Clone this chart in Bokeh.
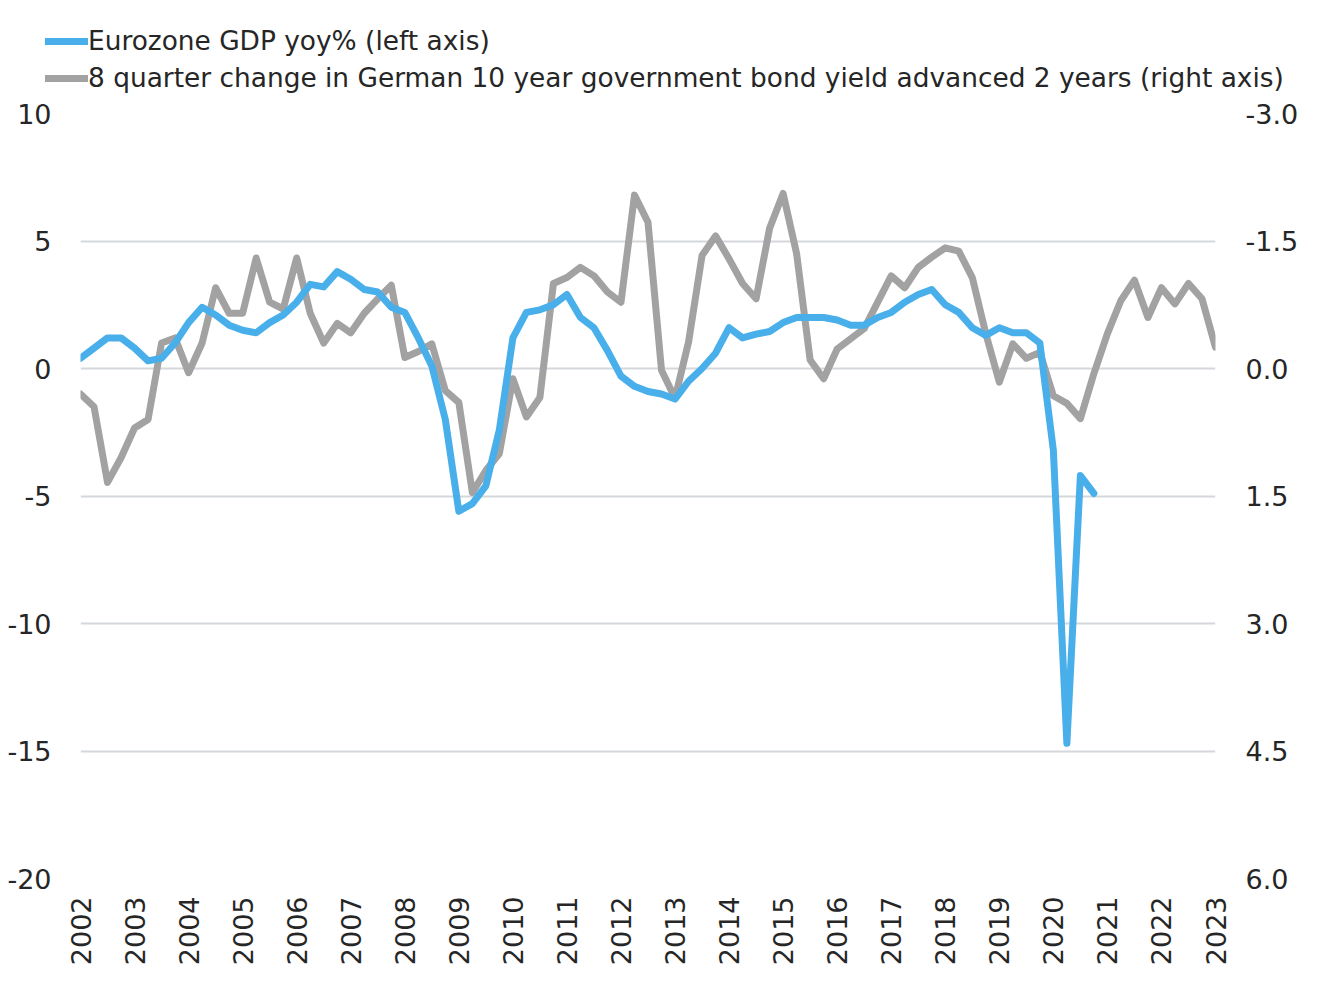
import math
from bokeh.plotting import figure
from bokeh.layouts import column
from bokeh.models import (Range1d, LinearAxis, FixedTicker, PrintfTickFormatter,
                          Legend, LegendItem, ColumnDataSource)
from bokeh.embed import file_html
from bokeh.resources import INLINE

# ---- data (quarterly, starting 2002 Q1) ----
start_year = 2002
gdp_yoy = [0.4, 0.8, 1.2, 1.2, 0.8, 0.3, 0.4, 1.0, 1.8, 2.4,
           2.1, 1.7, 1.5, 1.4, 1.8, 2.1, 2.6, 3.3, 3.2, 3.8,
           3.5, 3.1, 3.0, 2.4, 2.2, 1.2, 0.1, -2.0, -5.6, -5.3,
           -4.6, -2.4, 1.2, 2.2, 2.3, 2.5, 2.9, 2.0, 1.6, 0.7,
           -0.3, -0.7, -0.9, -1.0, -1.2, -0.5, 0.0, 0.6, 1.6, 1.2,
           1.35, 1.45, 1.8, 2.0, 2.0, 2.0, 1.9, 1.7, 1.7, 2.0,
           2.2, 2.6, 2.9, 3.1, 2.5, 2.2, 1.6, 1.3, 1.6, 1.4,
           1.4, 1.0, -3.2, -14.7, -4.2, -4.9]
bund_8q = [0.3, 0.45, 1.34, 1.05, 0.7, 0.6, -0.3, -0.36, 0.05, -0.3,
           -0.95, -0.65, -0.65, -1.3, -0.78, -0.7, -1.3, -0.65, -0.3, -0.53,
           -0.42, -0.65, -0.82, -0.98, -0.13, -0.2, -0.29, 0.26, 0.4, 1.46,
           1.2, 1.0, 0.12, 0.57, 0.34, -1.0, -1.07, -1.19, -1.09, -0.9,
           -0.78, -2.04, -1.72, 0.02, 0.35, -0.31, -1.33, -1.56, -1.29, -1.0,
           -0.82, -1.65, -2.06, -1.35, -0.1, 0.12, -0.23, -0.35, -0.47, -0.78,
           -1.09, -0.95, -1.19, -1.31, -1.42, -1.38, -1.07, -0.41, 0.16, -0.29,
           -0.12, -0.19, 0.32, 0.41, 0.59, 0.06, -0.41, -0.8, -1.04, -0.6,
           -0.95, -0.76, -1.0, -0.82, -0.25]
years = list(range(2002, 2024))
left_ticks = [-20, -15, -10, -5, 0, 5, 10]
right_ticks = [-3.0, -1.5, 0.0, 1.5, 3.0, 4.5, 6.0]
label_gdp = "Eurozone GDP yoy% (left axis)"
label_bund = "8 quarter change in German 10 year government bond yield advanced 2 years (right axis)"

x_gdp = [start_year + i / 4 for i in range(len(gdp_yoy))]
x_bund = [start_year + i / 4 for i in range(len(bund_8q))]

FONT = "DejaVu Sans"
FS = "27px"
LEG_FS = "26.4px"
TXT = "#262626"
BLUE = "#49AFEA"
GREY = "#A2A2A2"
LW = 7
LEG_H = 100
W = 1324

src_g = ColumnDataSource(dict(x=x_gdp, y=gdp_yoy))
src_b = ColumnDataSource(dict(x=x_bund, y=bund_8q))

# ---------- legend strip (series are out of its view; only the legend shows) ----------
lf = figure(width=W, height=LEG_H, output_backend="svg", toolbar_location=None,
            x_range=Range1d(0, 1), y_range=Range1d(0, 1),
            x_axis_type=None, y_axis_type=None,
            min_border_left=0, min_border_right=0, min_border_top=0,
            min_border_bottom=0)
lf.frame_align = False
lf.outline_line_color = None
lf.xgrid.visible = False
lf.ygrid.visible = False
lr1 = lf.line("x", "y", source=src_g, line_color=BLUE, line_width=LW, line_cap="round")
lr2 = lf.line("x", "y", source=src_b, line_color=GREY, line_width=LW, line_cap="round")
legend = Legend(items=[LegendItem(label=label_gdp, renderers=[lr1]),
                       LegendItem(label=label_bund, renderers=[lr2])],
                location=(45, 7), glyph_width=43, glyph_height=30,
                label_standoff=0, padding=0, margin=0, spacing=6,
                background_fill_alpha=0, border_line_color=None,
                label_text_font=FONT, label_text_font_size=LEG_FS,
                label_text_color=TXT)
lf.add_layout(legend, "center")

# ---------- main chart ----------
p = figure(width=W, height=972 - LEG_H, output_backend="svg", toolbar_location=None,
           x_range=Range1d(2002, 2023), y_range=Range1d(-20, 10),
           min_border_left=80, min_border_right=109, min_border_top=113 - LEG_H,
           min_border_bottom=94)
p.outline_line_color = None
p.xgrid.visible = False
p.ygrid.ticker = FixedTicker(ticks=left_ticks)
p.ygrid.grid_line_color = "#D4D8DC"
p.ygrid.grid_line_width = 2

p.extra_y_ranges = {"r": Range1d(start=6, end=-3)}

ya = p.yaxis[0]
ya.ticker = FixedTicker(ticks=left_ticks)
ya.formatter = PrintfTickFormatter(format="%d")

xa = p.xaxis[0]
xa.ticker = FixedTicker(ticks=years)
xa.formatter = PrintfTickFormatter(format="%d")
xa.major_label_orientation = math.pi / 2

ra = LinearAxis(y_range_name="r", ticker=FixedTicker(ticks=right_ticks),
                formatter=PrintfTickFormatter(format="%.1f"))
p.add_layout(ra, "right")

for ax in (ya, xa, ra):
    ax.axis_line_color = None
    ax.major_tick_line_color = None
    ax.minor_tick_line_color = None
    ax.major_tick_in = 0
    ax.major_tick_out = 0
    ax.minor_tick_in = 0
    ax.minor_tick_out = 0
    ax.major_label_text_font = FONT
    ax.major_label_text_font_size = FS
    ax.major_label_text_color = TXT
ya.major_label_standoff = 29
ra.major_label_standoff = 30
xa.major_label_standoff = 18

p.line("x", "y", source=src_b, y_range_name="r", line_color=GREY,
       line_width=LW, line_join="round", line_cap="round")
p.line("x", "y", source=src_g, line_color=BLUE, line_width=LW,
       line_join="round", line_cap="round")

layout = column(lf, p, spacing=0)
open("out.html", "w").write(file_html(layout, INLINE))
